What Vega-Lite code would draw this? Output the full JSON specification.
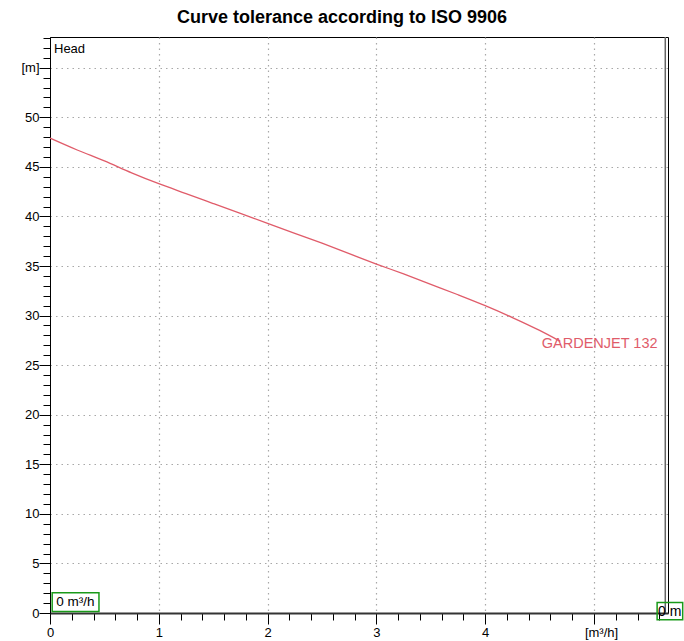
{
  "$schema": "https://vega.github.io/schema/vega-lite/v6.json",
  "autosize": "none",
  "width": 618,
  "height": 576,
  "padding": {"left": 50, "top": 37, "right": 16, "bottom": 28},
  "background": "white",
  "config": {
    "font": "Liberation Sans",
    "view": {"stroke": "black", "strokeWidth": 1},
    "axis": {"labelFont": "Liberation Sans", "labelFontSize": 13, "labelColor": "black", "tickColor": "black", "domainColor": "black", "gridColor": "#a8a8a8", "gridDash": [1.5, 4], "gridWidth": 1.2}
  },
  "title": {"text": "Curve tolerance according to ISO 9906", "font": "Liberation Sans", "fontSize": 18, "fontWeight": "bold", "color": "black", "anchor": "middle", "dx": -17, "offset": 5},
  "datasets": {
    "curve": [
      {"q": 0, "h": 47.9},
      {"q": 0.25, "h": 46.7},
      {"q": 0.5, "h": 45.6},
      {"q": 0.75, "h": 44.4},
      {"q": 1, "h": 43.3},
      {"q": 1.25, "h": 42.3},
      {"q": 1.5, "h": 41.3},
      {"q": 1.75, "h": 40.3},
      {"q": 2, "h": 39.3},
      {"q": 2.25, "h": 38.3},
      {"q": 2.5, "h": 37.3},
      {"q": 2.75, "h": 36.25},
      {"q": 3, "h": 35.2},
      {"q": 3.25, "h": 34.2},
      {"q": 3.5, "h": 33.15},
      {"q": 3.75, "h": 32.1},
      {"q": 4, "h": 31.0},
      {"q": 4.25, "h": 29.8},
      {"q": 4.5, "h": 28.5},
      {"q": 4.69, "h": 27.4}
    ],
    "one": [{}]
  },
  "resolve": {"axis": {"x": "independent", "y": "independent"}},
  "layer": [
    {
      "data": {"name": "curve"},
      "mark": {"type": "line", "color": "#e05c6a", "strokeWidth": 1.3, "interpolate": "monotone"},
      "encoding": {
        "x": {"field": "q", "type": "quantitative", "scale": {"domain": [0, 5.68], "nice": false, "zero": false},
          "axis": {"title": null, "values": [0,0.2,0.4,0.6,0.8,1,1.2,1.4,1.6,1.8,2,2.2,2.4,2.6,2.8,3,3.2,3.4,3.6,3.8,4,4.2,4.4,4.6,4.8,5,5.2,5.4,5.6],
            "domainWidth": 2, "domainColor": "#333333", "labelPadding": 2, "labelFlush": false, "labelOverlap": false,
            "labelExpr": "abs(datum.value-5)<1e-6 ? '[m³/h]' : (abs(datum.value-round(datum.value))<1e-6 ? format(datum.value, 'd') : '')",
            "labelOffset": {"condition": {"test": "abs(datum.value-5)<1e-6", "value": 7}, "value": 0},
            "tickSize": {"condition": {"test": "abs(datum.value-round(datum.value))<1e-6", "value": 11}, "value": 7},
            "grid": true,
            "gridOpacity": {"condition": {"test": "abs(datum.value-round(datum.value))<1e-6 && datum.value>0", "value": 1}, "value": 0}}},
        "y": {"field": "h", "type": "quantitative", "scale": {"domain": [0, 58.1], "nice": false, "zero": false},
          "axis": {"title": null, "values": [0,1,2,3,4,5,6,7,8,9,10,11,12,13,14,15,16,17,18,19,20,21,22,23,24,25,26,27,28,29,30,31,32,33,34,35,36,37,38,39,40,41,42,43,44,45,46,47,48,49,50,51,52,53,54,55,56,57,58],
            "labelPadding": 0, "labelFlush": false, "labelOverlap": false,
            "labelExpr": "datum.value==55 ? '[m]' : (datum.value%5==0 ? format(datum.value, 'd') : '')",
            "tickSize": {"condition": {"test": "datum.value%5==0", "value": 11}, "value": 7},
            "grid": true,
            "gridOpacity": {"condition": {"test": "datum.value%5==0 && datum.value>0", "value": 1}, "value": 0}}}
      }
    },
    {
      "data": {"name": "one"},
      "mark": {"type": "text", "text": "GARDENJET 132", "color": "#e05c6a", "fontSize": 14.5, "align": "left", "baseline": "middle", "font": "Liberation Sans"},
      "encoding": {"x": {"datum": 4.52, "axis": null}, "y": {"datum": 27.1, "axis": null}}
    },
    {
      "data": {"name": "one"},
      "mark": {"type": "text", "text": "Head", "color": "black", "fontSize": 13, "align": "left", "baseline": "top", "dx": 4, "dy": 6, "font": "Liberation Sans"},
      "encoding": {"x": {"datum": 0, "axis": null}, "y": {"datum": 58.1, "axis": null}}
    },
    {
      "data": {"name": "one"},
      "mark": {"type": "rule", "color": "#666666", "strokeWidth": 1.5},
      "encoding": {"x": {"datum": 5.655, "axis": null}}
    },
    {
      "data": {"name": "one"},
      "mark": {"type": "rect", "fill": "white", "stroke": "#1a9a1a", "strokeWidth": 1.5},
      "encoding": {"x": {"datum": 0.02, "axis": null}, "x2": {"datum": 0.45}, "y": {"datum": 0.15, "axis": null}, "y2": {"datum": 2.05}}
    },
    {
      "data": {"name": "one"},
      "mark": {"type": "text", "text": "0 m³/h", "color": "black", "fontSize": 13.5, "align": "left", "baseline": "middle", "dx": 4, "font": "Liberation Sans"},
      "encoding": {"x": {"datum": 0.02, "axis": null}, "y": {"datum": 1.1, "axis": null}}
    },
    {
      "data": {"name": "one"},
      "mark": {"type": "rect", "fill": "white", "fillOpacity": 0, "stroke": "#1a9a1a", "strokeWidth": 1.5},
      "encoding": {"x": {"datum": 5.58, "axis": null}, "x2": {"datum": 5.815}, "y": {"datum": -0.68, "axis": null}, "y2": {"datum": 1.05}}
    },
    {
      "data": {"name": "one"},
      "mark": {"type": "text", "text": "0 m", "color": "black", "fontSize": 14, "align": "left", "baseline": "middle", "dx": 1, "font": "Liberation Sans"},
      "encoding": {"x": {"datum": 5.58, "axis": null}, "y": {"datum": 0.15, "axis": null}}
    }
  ]
}
